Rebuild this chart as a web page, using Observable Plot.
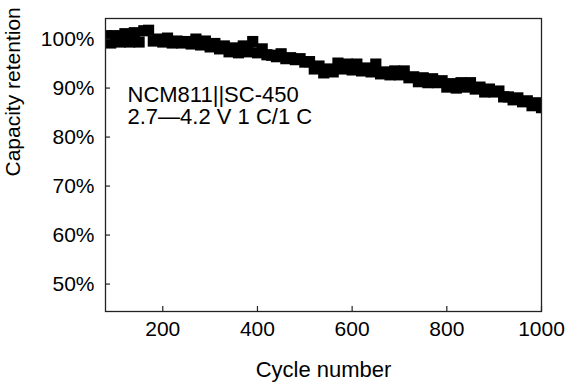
<!DOCTYPE html>
<html>
<head>
<meta charset="utf-8">
<script src="https://cdn.jsdelivr.net/npm/d3@7"></script>
<script src="https://cdn.jsdelivr.net/npm/@observablehq/plot@0.6"></script>
<style>
  html, body { margin: 0; padding: 0; background: #fff; }
  #chart { width: 568px; height: 386px; }
</style>
</head>
<body>
<div id="chart"></div>
<script>
const cycles = [80, 90, 100, 110, 120, 130, 140, 150, 160, 170, 180, 190, 200, 210, 220, 230, 240, 250, 260, 270,
  280, 290, 300, 310, 320, 330, 340, 350, 360, 370, 380, 390, 400, 410, 420, 430, 440, 450, 460, 470,
  480, 490, 500, 510, 520, 530, 540, 550, 560, 570, 580, 590, 600, 610, 620, 630, 640, 650, 660, 670,
  680, 690, 700, 710, 720, 730, 740, 750, 760, 770, 780, 790, 800, 810, 820, 830, 840, 850, 860, 870,
  880, 890, 900, 910, 920, 930, 940, 950, 960, 970, 980, 990, 1000];
const retention = [100.7, 99.2, 100.7, 99.4, 101.1, 99.4, 101.3, 99.4, 101.7, 101.8, 99.6, 100.0, 99.4, 100.2, 99.2, 99.6, 99.2, 99.5, 99.0, 100.0,
  98.8, 99.6, 98.4, 99.1, 98.0, 98.6, 97.4, 98.2, 97.2, 98.6, 97.4, 99.5, 97.2, 98.0, 96.8, 96.7, 96.4, 97.0, 96.0, 96.2,
  95.8, 96.0, 95.3, 95.4, 93.9, 94.5, 93.1, 93.9, 93.3, 95.1, 93.9, 94.9, 93.7, 94.9, 93.5, 94.1, 93.3, 94.9, 92.9, 93.3,
  92.7, 93.5, 92.7, 93.5, 92.1, 92.3, 91.3, 92.1, 91.1, 91.9, 91.1, 91.5, 90.2, 90.9, 90.0, 91.1, 90.2, 91.1, 89.8, 90.2,
  89.2, 89.8, 89.2, 89.4, 88.2, 88.2, 87.6, 88.0, 87.2, 87.4, 86.4, 87.0, 86.0];
const xTicks = [200, 400, 600, 800, 1000];
const yTicks = [50, 60, 70, 80, 90, 100];
const xTitle = "Cycle number";
const yTitle = "Capacity retention";
const noteLines = ["NCM811||SC-450", "2.7\u20144.2 V 1 C/1 C"];

const data = cycles.map((c, i) => ({cycle: c, value: retention[i]}));

const W = 568, H = 386;
const mL = 105, mR = 27, mT = 18, mB = 75;
const innerW = W - mL - mR, innerH = H - mT - mB;
const font = 'Arial, "Liberation Sans", Helvetica, sans-serif';

const chart = Plot.plot({
  width: W,
  height: H,
  marginLeft: mL,
  marginRight: mR,
  marginTop: mT,
  marginBottom: mB,
  style: {fontFamily: font, fontSize: "21px", background: "#fff", color: "#000", overflow: "visible"},
  x: {domain: [79, 1000]},
  y: {domain: [44.4, 104.2]},
  marks: [
    Plot.dot(data, {x: "cycle", y: "value", symbol: "square", r: 6.3, fill: "#000", stroke: "none", clip: true}),
    Plot.frame({stroke: "#222", strokeWidth: 1.3}),
    Plot.tickX(xTicks, {x: d => d, insetTop: innerH - 5, stroke: "#222", strokeWidth: 1.2}),
    Plot.tickY(yTicks, {y: d => d, insetRight: innerW - 5, stroke: "#222", strokeWidth: 1.2}),
    Plot.axisX(xTicks, {tickSize: 0, tickPadding: 10, fontSize: 21, label: null, tickFormat: d => String(d), fill: "#000"}),
    Plot.axisY(yTicks, {tickSize: 0, tickPadding: 11, fontSize: 21, label: null, tickFormat: d => d + "%", fill: "#000"}),
    Plot.text([xTitle], {frameAnchor: "bottom", dy: 58, lineAnchor: "middle", fontSize: 22, fill: "#000"}),
    Plot.text([yTitle], {frameAnchor: "left", dx: -92.5, dy: 11.5, rotate: -90, lineAnchor: "middle", fontSize: 21, fill: "#000"}),
    Plot.text([noteLines.join("\n")], {frameAnchor: "top-left", dx: 22, dy: 67.4, textAnchor: "start", lineAnchor: "top", lineHeight: 1, fontSize: 22, fill: "#000"})
  ]
});
document.getElementById("chart").appendChild(chart);
</script>
</body>
</html>
